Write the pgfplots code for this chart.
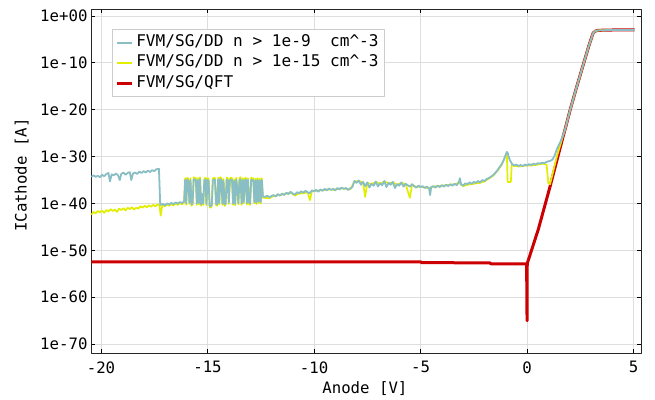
\documentclass[border=0pt]{standalone}
\usepackage{fontspec}
\setmainfont{DejaVu Sans Mono}
\usepackage{pgfplots}
\pgfplotsset{compat=1.18}

\definecolor{ddteal}{RGB}{136,190,196}
\definecolor{ddyellow}{RGB}{226,238,0}
\definecolor{qftred}{RGB}{204,0,0}
\newcommand{\chartfont}{\fontsize{15.7}{18.8}\selectfont}
\newcommand{\legendfont}{\fontsize{16.1}{19}\selectfont}

\begin{document}
\begin{tikzpicture}[font=\chartfont]
\useasboundingbox (0pt,0pt) rectangle (655pt,399pt);
\begin{axis}[
  at={(91pt,46pt)}, anchor=south west,
  scale only axis, width=550pt, height=344pt,
  ymode=log, log basis y=10,
  xmin=-20.47, xmax=5.35,
  ymin=1.3e-72, ymax=30,
  xtick={-20,-15,-10,-5,0,5},
  xticklabels={-20,-15,-10,-5,0,5},
  ytick={1e-70,1e-60,1e-50,1e-40,1e-30,1e-20,1e-10,1},
  yticklabels={1e-70,1e-60,1e-50,1e-40,1e-30,1e-20,1e-10,1e+00},
  minor tick num=0,
  tick label style={font=\chartfont},
  xticklabel style={yshift=-5pt},
  major tick length=4pt,
  tick style={black, line width=0.8pt},
  axis line style={black!85, line width=1pt},
  grid=major,
  grid style={black!13, line width=0.8pt},
  xlabel={Anode [V]},
  ylabel={ICathode [A]},
  label style={font=\chartfont},
  xlabel style={at={(axis description cs:0.498,-0.104)}, anchor=center},
  ylabel style={at={(axis description cs:-0.126,0.517)}, anchor=center},
  reverse legend,
  legend cell align=left,
  legend image code/.code={\draw[#1] (0pt,0pt) -- (15pt,0pt);},
  legend style={
    at={(axis description cs:0.038,0.942)}, anchor=north west,
    draw=black!20, line width=0.8pt, fill=white,
    font=\legendfont,
    inner xsep=3pt, inner ysep=3pt,
    nodes={inner xsep=3pt, inner ysep=3pt, text height=11pt, text depth=3.5pt},
  },
  line join=round,
]

% quantum-corrected solution (drawn first, underneath)
\addplot[qftred, line width=3pt] coordinates {
(-20.45,3.5e-53) (-4.98,3.5e-53) (-4.95,2.4e-53) (-1.75,2.2e-53) (-1.70,1.4e-53)
(-0.02,1.3e-53) (0.00,1e-65) (0.01,1.6e-53) (0.53,3.2e-46) (1.08,4.0e-37)
(1.70,2.5e-26) (1.78,5.0e-25) (2.02,7.9e-21) (2.30,2.5e-16) (2.60,1e-11)
(2.90,4.0e-7) (3.10,2.0e-4) (3.20,5.6e-4) (3.30,7.9e-4) (3.50,8.9e-4)
(4.00,1e-3) (5.05,1e-3)
};
\addlegendentry{FVM/SG/QFT}

% drift-diffusion, density cutoff 1e-15
\addplot[ddyellow, line width=1.7pt] coordinates {
(-20.45,4.0e-43) (-20.35,1.6e-42) (-20.25,7.9e-43) (-20.15,2.5e-42) (-20.05,1.3e-42)
(-19.95,3.2e-42) (-19.85,1e-42) (-19.75,4.0e-42) (-19.65,2.0e-42) (-19.55,6.3e-42)
(-19.45,2.5e-42) (-19.35,5.0e-42) (-19.25,1.6e-42) (-19.15,7.9e-42) (-19.05,4.0e-42)
(-18.95,1e-41) (-18.85,3.2e-42) (-18.75,1.3e-41) (-18.65,6.3e-42) (-18.55,1.6e-41)
(-18.45,5.0e-42) (-18.35,1.3e-41) (-18.25,7.9e-42) (-18.15,2.5e-41) (-18.05,1.3e-41)
(-17.95,3.2e-41) (-17.85,1.6e-41) (-17.75,4.0e-41) (-17.65,2.0e-41) (-17.55,5.0e-41)
(-17.45,2.5e-41) (-17.35,6.3e-41) (-17.25,4.0e-41) (-17.20,2.5e-43) (-17.12,5.0e-41)
(-17.00,2.5e-41) (-16.90,6.3e-41) (-16.80,3.2e-41) (-16.70,7.9e-41) (-16.60,4.0e-41)
(-16.50,1e-40) (-16.40,5.0e-41) (-16.30,1.3e-40) (-16.20,6.3e-41) (-16.10,1.6e-40)
(-16.05,2.5e-35) (-16.00,5.0e-41) (-15.95,3.2e-35) (-15.90,1.6e-35) (-15.85,7.9e-41)
(-15.80,2.5e-35) (-15.75,3.2e-41) (-15.70,6.3e-41) (-15.65,4.0e-35) (-15.60,2.0e-35)
(-15.55,3.2e-35) (-15.50,5.0e-41) (-15.45,2.5e-35) (-15.40,6.3e-41) (-15.35,4.0e-35)
(-15.30,3.2e-41) (-15.25,5.0e-39) (-15.20,5.0e-41) (-15.15,1.6e-35) (-15.10,3.2e-35)
(-15.05,4.0e-41) (-15.00,2.5e-35) (-14.95,2.0e-35) (-14.90,1.6e-41) (-14.85,1.3e-41)
(-14.80,2.5e-41) (-14.75,2.0e-35) (-14.70,3.2e-35) (-14.65,2.5e-35) (-14.60,5.0e-41)
(-14.55,3.2e-41) (-14.50,3.2e-35) (-14.45,6.3e-41) (-14.40,4.0e-35) (-14.35,2.5e-35)
(-14.30,5.0e-41) (-14.25,1.6e-35) (-14.20,3.2e-41) (-14.15,5.0e-41) (-14.10,3.2e-35)
(-14.05,2.5e-35) (-14.00,7.9e-41) (-13.95,2.0e-35) (-13.90,3.2e-35) (-13.85,2.5e-35)
(-13.80,5.0e-41) (-13.75,1.6e-35) (-13.70,4.0e-41) (-13.65,3.2e-35) (-13.60,1e-37)
(-13.55,6.3e-41) (-13.50,2.5e-35) (-13.45,4.0e-35) (-13.40,5.0e-41) (-13.35,2.5e-35)
(-13.30,1e-40) (-13.25,2.0e-35) (-13.20,3.2e-35) (-13.15,6.3e-41) (-13.10,2.5e-35)
(-13.05,7.9e-41) (-13.00,5.0e-41) (-12.95,3.2e-35) (-12.90,1.6e-35) (-12.85,2.5e-35)
(-12.80,1e-40) (-12.75,2.0e-35) (-12.70,7.9e-41) (-12.65,2.5e-35) (-12.60,1.3e-40)
(-12.55,2.0e-35) (-12.50,1e-40) (-12.45,2.5e-35) (-12.40,1.6e-39)
(-12.30,1.6e-39) (-12.10,1.3e-39) (-11.90,4.0e-39) (-11.70,5.0e-39) (-11.50,7.9e-39)
(-11.30,1.3e-38) (-11.10,2.0e-38) (-10.90,5.0e-39) (-10.70,1.3e-38) (-10.50,1.6e-38)
(-10.30,2.5e-38) (-10.19,5.0e-40) (-10.10,4.0e-38) (-9.90,5.0e-38) (-9.70,6.3e-38)
(-9.50,7.9e-38) (-9.30,1e-37) (-9.10,7.9e-38) (-8.90,1.3e-37) (-8.70,1.6e-37)
(-8.50,1.3e-37) (-8.30,1e-37) (-8.10,5.0e-36) (-7.90,6.3e-36) (-7.70,3.2e-36)
(-7.60,2.5e-39) (-7.50,2.5e-36) (-7.30,1.3e-36) (-7.10,4.0e-36) (-6.90,1.6e-36)
(-6.70,5.0e-36) (-6.50,2.0e-36) (-6.30,3.2e-36) (-6.10,1e-36) (-5.90,2.5e-36)
(-5.70,1.3e-36) (-5.50,1.6e-39) (-5.40,1e-36) (-5.20,3.2e-37) (-5.00,4.0e-37)
(-4.80,2.5e-37) (-4.60,2.0e-37) (-4.40,4.0e-37) (-4.20,5.0e-37) (-4.00,6.3e-37)
(-3.80,7.9e-37) (-3.60,1e-36) (-3.40,1.3e-36) (-3.20,2.5e-36) (-3.00,5.0e-37)
(-2.80,1e-36) (-2.60,1.3e-36) (-2.40,2.0e-36) (-2.20,2.5e-36) (-2.00,5.0e-36)
(-1.80,2.0e-35) (-1.60,7.9e-35) (-1.40,7.9e-34) (-1.20,1.6e-32) (-1.05,6.3e-31)
(-0.95,6.3e-30) (-0.91,4.0e-36) (-0.76,4.0e-36) (-0.72,1.6e-32) (-0.60,1e-32)
(-0.40,7.9e-33) (-0.20,1e-32) (0.00,1.3e-32) (0.20,1.3e-32) (0.40,1.6e-32)
(0.60,2.5e-32) (0.80,3.2e-32) (0.92,1.6e-32) (1.00,2.0e-36) (1.08,1.3e-36)
(1.40,1e-30) (1.70,4.0e-26)
(1.78,5.0e-25) (2.02,7.9e-21) (2.30,2.5e-16) (2.60,1e-11) (2.90,4.0e-7)
(3.10,2.0e-4) (3.20,5.6e-4) (3.30,7.9e-4) (3.50,8.9e-4) (4.00,1e-3) (5.05,1e-3)
};
\addlegendentry{FVM/SG/DD n > 1e-15 cm\textasciicircum-3}

% drift-diffusion, density cutoff 1e-9
\addplot[ddteal, line width=1.8pt] coordinates {
(-20.45,5.0e-35) (-20.35,1e-34) (-20.25,5.0e-35) (-20.15,7.9e-35) (-20.05,4.0e-35)
(-19.95,1.3e-34) (-19.85,6.3e-35) (-19.75,2.0e-34) (-19.65,3.2e-34) (-19.58,5.0e-36)
(-19.50,1.6e-34) (-19.40,1e-34) (-19.30,2.5e-34) (-19.20,1e-34) (-19.12,1e-35)
(-19.05,2.0e-34) (-18.95,4.0e-34) (-18.85,1.3e-34) (-18.75,3.2e-34) (-18.65,5.0e-34)
(-18.58,1e-35) (-18.50,2.5e-34) (-18.40,4.0e-34) (-18.30,2.0e-34) (-18.20,6.3e-34)
(-18.10,3.2e-34) (-18.00,7.9e-34) (-17.90,4.0e-34) (-17.80,1e-33) (-17.70,5.0e-34)
(-17.60,1.3e-33) (-17.50,7.9e-34) (-17.40,2.0e-33) (-17.28,2.5e-33) (-17.22,5.0e-41)
(-17.10,7.9e-41) (-17.00,4.0e-41) (-16.90,1e-40) (-16.80,6.3e-41) (-16.70,1.3e-40)
(-16.60,7.9e-41) (-16.50,1.6e-40) (-16.40,1e-40) (-16.30,2.0e-40) (-16.20,1.3e-40)
(-16.10,2.5e-40)
(-16.05,1e-35) (-16.00,1e-40) (-15.95,1.3e-35) (-15.90,6.3e-36) (-15.85,1.6e-40)
(-15.80,1e-35) (-15.75,6.3e-41) (-15.70,1.3e-40) (-15.65,1.6e-35) (-15.60,7.9e-36)
(-15.55,1.3e-35) (-15.50,1e-40) (-15.45,1e-35) (-15.40,1.3e-40) (-15.35,1.6e-35)
(-15.30,6.3e-41) (-15.25,1e-38) (-15.20,1e-40) (-15.15,6.3e-36) (-15.10,1.3e-35)
(-15.05,7.9e-41) (-15.00,1e-35) (-14.95,7.9e-36) (-14.90,3.2e-41) (-14.85,2.5e-41)
(-14.80,5.0e-41) (-14.75,7.9e-36) (-14.70,1.3e-35) (-14.65,1e-35) (-14.60,1e-40)
(-14.55,6.3e-41) (-14.50,1.3e-35) (-14.45,1.3e-40) (-14.40,1.6e-35) (-14.35,1e-35)
(-14.30,1e-40) (-14.25,6.3e-36) (-14.20,6.3e-41) (-14.15,1e-40) (-14.10,1.3e-35)
(-14.05,1e-35) (-14.00,1.6e-40) (-13.95,7.9e-36) (-13.90,1.3e-35) (-13.85,1e-35)
(-13.80,1e-40) (-13.75,6.3e-36) (-13.70,7.9e-41) (-13.65,1.3e-35) (-13.60,2.0e-37)
(-13.55,1.3e-40) (-13.50,1e-35) (-13.45,1.6e-35) (-13.40,1e-40) (-13.35,1e-35)
(-13.30,2.0e-40) (-13.25,7.9e-36) (-13.20,1.3e-35) (-13.15,1.3e-40) (-13.10,1e-35)
(-13.05,1.6e-40) (-13.00,1e-40) (-12.95,1.3e-35) (-12.90,6.3e-36) (-12.85,1e-35)
(-12.80,2.0e-40) (-12.75,7.9e-36) (-12.70,1.6e-40) (-12.65,1e-35) (-12.60,2.5e-40)
(-12.55,7.9e-36) (-12.50,2.0e-40) (-12.45,1e-35) (-12.40,3.2e-39)
(-12.30,2.5e-39) (-12.20,5.0e-39) (-12.10,2.0e-39) (-12.00,4.0e-39) (-11.90,6.3e-39)
(-11.80,3.2e-39) (-11.70,1e-38) (-11.60,5.0e-39) (-11.50,1.3e-38) (-11.40,6.3e-39)
(-11.30,2.0e-38) (-11.20,1e-38) (-11.10,3.2e-38) (-11.00,1.3e-38) (-10.90,7.9e-39)
(-10.80,2.5e-38) (-10.70,1.6e-38) (-10.60,4.0e-38) (-10.50,2.0e-38) (-10.40,5.0e-38)
(-10.30,2.5e-38) (-10.20,1.6e-38) (-10.10,6.3e-38) (-10.00,4.0e-38) (-9.90,7.9e-38)
(-9.80,3.2e-38) (-9.70,1e-37) (-9.60,5.0e-38) (-9.50,1.3e-37) (-9.40,6.3e-38)
(-9.30,1.6e-37) (-9.20,7.9e-38) (-9.10,1.3e-37) (-9.00,6.3e-38) (-8.90,2.0e-37)
(-8.80,1e-37) (-8.70,2.5e-37) (-8.60,1.3e-37) (-8.50,2.0e-37) (-8.40,7.9e-38)
(-8.30,1.6e-37) (-8.20,3.2e-37) (-8.10,6.3e-36) (-8.00,2.5e-36) (-7.90,7.9e-36)
(-7.80,1e-36) (-7.70,4.0e-36) (-7.60,5.0e-37) (-7.50,3.2e-36) (-7.40,2.5e-37)
(-7.30,1.6e-36) (-7.20,6.3e-37) (-7.10,5.0e-36) (-7.00,4.0e-37) (-6.90,2.0e-36)
(-6.80,7.9e-37) (-6.70,6.3e-36) (-6.60,3.2e-37) (-6.50,2.5e-36) (-6.40,1e-36)
(-6.30,4.0e-36) (-6.20,2.0e-37) (-6.10,1.3e-36) (-6.00,6.3e-37) (-5.90,3.2e-36)
(-5.80,4.0e-37) (-5.70,1.6e-36) (-5.60,7.9e-37) (-5.50,4.0e-37) (-5.40,1.3e-36)
(-5.30,5.0e-37) (-5.20,2.5e-37) (-5.10,6.3e-37) (-5.00,3.2e-37) (-4.90,5.0e-37)
(-4.80,2.0e-37) (-4.70,4.0e-37) (-4.60,1.6e-37) (-4.55,6.3e-39) (-4.50,3.2e-37)
(-4.40,5.0e-37) (-4.30,2.5e-37) (-4.20,6.3e-37) (-4.10,3.2e-37) (-4.00,7.9e-37)
(-3.90,4.0e-37) (-3.80,1e-36) (-3.70,5.0e-37) (-3.60,1.3e-36) (-3.50,6.3e-37)
(-3.40,1.6e-36) (-3.30,7.9e-37) (-3.20,4.0e-36) (-3.15,2.5e-35) (-3.10,1.3e-36)
(-3.00,6.3e-37) (-2.90,2.0e-36) (-2.80,1.3e-36) (-2.70,3.2e-36) (-2.60,1.6e-36)
(-2.50,4.0e-36) (-2.40,2.5e-36) (-2.30,6.3e-36) (-2.20,3.2e-36) (-2.10,1e-35)
(-2.00,6.3e-36) (-1.90,1.6e-35) (-1.80,2.5e-35) (-1.70,5.0e-35) (-1.60,1e-34)
(-1.50,3.2e-34) (-1.40,1e-33) (-1.30,5.0e-33) (-1.20,2.0e-32) (-1.10,1.6e-31)
(-1.00,2.5e-30) (-0.95,1e-29) (-0.90,5.0e-30) (-0.85,6.3e-31) (-0.80,1.6e-31)
(-0.70,2.5e-32) (-0.60,1.3e-32) (-0.50,2.0e-32) (-0.40,1e-32) (-0.30,1.6e-32)
(-0.20,1e-32) (-0.10,2.0e-32) (0.00,1.3e-32) (0.10,2.5e-32) (0.20,1.6e-32)
(0.30,3.2e-32) (0.40,2.0e-32) (0.50,4.0e-32) (0.60,3.2e-32) (0.70,5.0e-32)
(0.80,4.0e-32) (0.90,6.3e-32) (1.00,1e-31) (1.10,1.3e-31) (1.20,2.5e-31)
(1.30,2.0e-30) (1.40,4.0e-29) (1.55,1e-27) (1.70,4.0e-26)
(1.78,5.0e-25) (2.02,7.9e-21) (2.30,2.5e-16) (2.60,1e-11) (2.90,4.0e-7)
(3.10,2.0e-4) (3.20,5.6e-4) (3.30,7.9e-4) (3.50,8.9e-4) (4.00,1e-3) (5.05,1e-3)
};
\addlegendentry{FVM/SG/DD n > 1e-9\ \ cm\textasciicircum-3}

\end{axis}
\end{tikzpicture}
\end{document}
